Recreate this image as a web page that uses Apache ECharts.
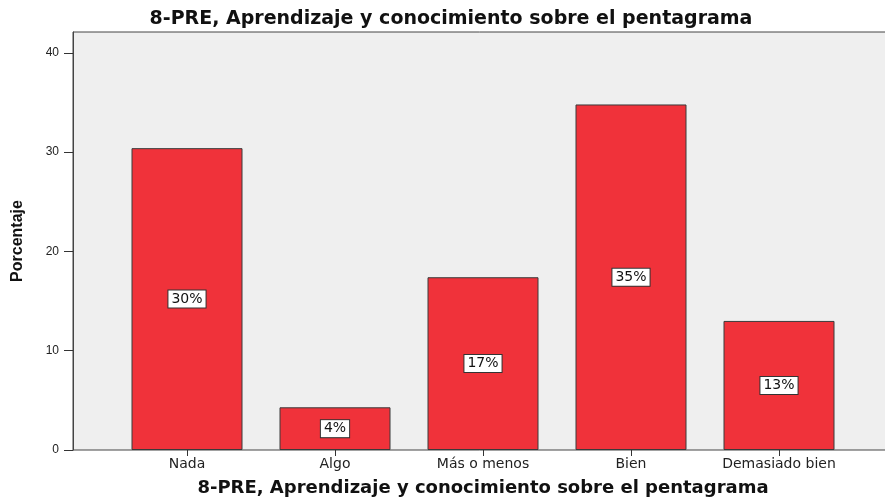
<!DOCTYPE html>
<html>
<head>
<meta charset="utf-8">
<script src="https://cdn.jsdelivr.net/npm/echarts@6/dist/echarts.min.js"></script>
<style>
  html, body { margin: 0; padding: 0; background: #fff; }
  #chart { width: 885px; height: 499px; }
</style>
</head>
<body>
<div id="chart"></div>
<script>
var chartTitle = '8-PRE, Aprendizaje y conocimiento sobre el pentagrama';
var categories = ['Nada', 'Algo', 'Más o menos', 'Bien', 'Demasiado bien'];
var percentValues = [30.4, 4.3, 17.4, 34.8, 13.0];
var barLabels = ['30%', '4%', '17%', '35%', '13%'];
var yTicks = [0, 10, 20, 30, 40];

var myChart = echarts.init(document.getElementById('chart'));

var wideFont = 'DejaVu Sans';
var textFont = 'Liberation Sans';

var option = {
    animation: false,
    backgroundColor: '#ffffff',
    title: {
        text: chartTitle,
        left: 446,
        textAlign: 'center',
        top: 5,
        textStyle: { fontFamily: wideFont, fontSize: 19, fontWeight: 'bold', color: '#111' }
    },
    grid: [
        // frame / background
        { left: 73, right: -2, top: 32, bottom: 49, outerBoundsMode: 'none', show: true, backgroundColor: '#efefef', borderColor: '#444', borderWidth: 1 },
        // bars
        { left: 113, right: 32, top: 32, bottom: 49, outerBoundsMode: 'none' }
    ],
    xAxis: [
        { type: 'value', gridIndex: 0, show: false },
        {
            type: 'category', gridIndex: 1, data: categories,
            axisLine: { show: false },
            axisTick: { show: true, alignWithLabel: true, length: 6, lineStyle: { color: '#333' } },
            axisLabel: { fontFamily: wideFont, fontSize: 14, color: '#222', margin: 7 },
            name: chartTitle, nameLocation: 'middle', nameGap: 29,
            nameTextStyle: { fontFamily: wideFont, fontSize: 18, fontWeight: 'bold', color: '#111' }
        }
    ],
    yAxis: [
        {
            type: 'value', gridIndex: 0, min: 0, max: 42.1, interval: 10,
            axisLine: { show: true, lineStyle: { color: '#444' } },
            axisTick: { show: true, length: 9, customValues: yTicks, lineStyle: { color: '#333' } },
            axisLabel: { fontFamily: textFont, fontSize: 12, color: '#222', margin: 14, customValues: yTicks },
            splitLine: { show: false },
            name: 'Porcentaje', nameLocation: 'middle', nameGap: 47,
            nameTextStyle: { fontFamily: textFont, fontSize: 16, fontWeight: 'bold', color: '#111' }
        },
        { type: 'value', gridIndex: 1, min: 0, max: 42.1, show: false }
    ],
    series: [
        {
            type: 'bar', xAxisIndex: 1, yAxisIndex: 1,
            data: percentValues,
            barWidth: 111,
            itemStyle: { color: '#f0323a', borderColor: '#3a3a3a', borderWidth: 1 },
            label: {
                show: true, position: 'inside',
                formatter: function (p) { return barLabels[p.dataIndex]; },
                fontFamily: wideFont, fontSize: 14, color: '#111',
                backgroundColor: '#fff', borderColor: '#333', borderWidth: 1,
                padding: [2, 3, 1, 3]
            }
        }
    ]
};

myChart.setOption(option);
</script>
</body>
</html>
